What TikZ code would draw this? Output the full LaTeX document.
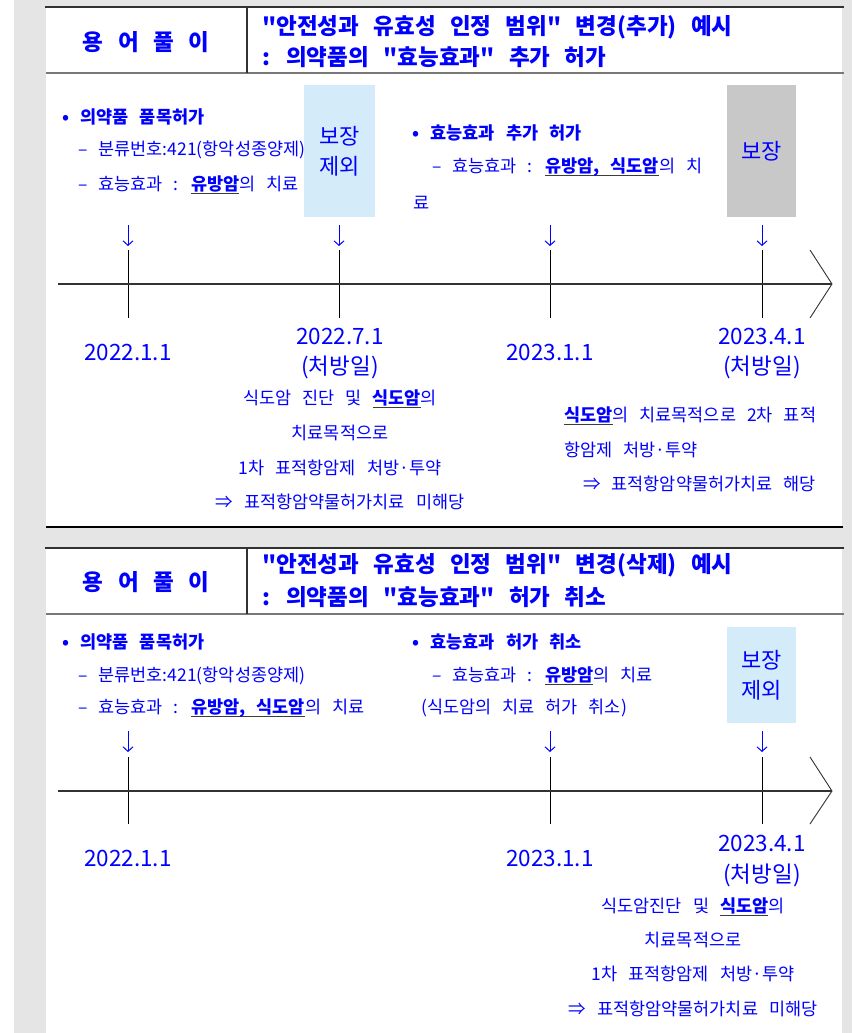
\documentclass[tikz,border=0pt]{standalone}
\usepackage{fontspec}
\newfontfamily\krf{Noto Sans CJK KR}[WordSpace=2.8]
\usetikzlibrary{arrows.meta}
\definecolor{txtblue}{RGB}{0,0,255}
\definecolor{bggray}{RGB}{229,229,229}
\definecolor{boxblue}{RGB}{212,235,249}
\definecolor{boxgray}{RGB}{200,200,200}
\definecolor{ulgray}{RGB}{60,60,60}
\definecolor{hdtop}{RGB}{50,50,50}
\definecolor{hdbot}{RGB}{120,120,120}
\newsavebox\ulbx
\newcommand\ulw[1]{\sbox\ulbx{\bfseries #1}\rlap{\color{ulgray}\rule[-3.5pt]{\wd\ulbx}{1.3pt}}\usebox\ulbx}
\tikzset{
  body/.style={text=txtblue, font=\krf\fontsize{17.5}{20}\selectfont, inner sep=0pt, anchor=west},
  bodyc/.style={body, anchor=center},
  bhead/.style={body, font=\krf\fontsize{17.5}{20}\selectfont\bfseries},
  hdl/.style={text=txtblue, font=\krf\fontsize{22.5}{26}\selectfont\bfseries, inner sep=0pt},
  hdt/.style={hdl, anchor=west},
  datef/.style={text=txtblue, font=\krf\fontsize{22.5}{26}\selectfont, inner sep=0pt},
  boxlbl/.style={text=txtblue, font=\krf\fontsize{22}{30}\selectfont, inner sep=0pt, align=center, minimum width=70pt},
  darr/.style={draw=txtblue, line width=1pt, -{Straight Barb[length=4.5pt,width=10pt]}},
  axisl/.style={draw=hdtop, line width=1.8pt},
  tickl/.style={draw=black, line width=0.8pt},
  chev/.style={draw=hdtop, line width=0.9pt},
}
\begin{document}
\begin{tikzpicture}[x=1pt,y=-1pt]
\useasboundingbox (0,0) rectangle (852,1033);
\fill[white] (0,0) rectangle (852,1033);
\fill[bggray] (14,0) rectangle (852,1033);
\fill[white] (46,7) rectangle (842,527);
\fill[white] (46,548) rectangle (842,1033);

% ---------- Panel 1 header ----------
\draw[line width=2pt, draw=hdtop] (45,7.5) -- (844,7.5);
\draw[line width=2pt, draw=hdbot] (46,73) -- (844,73);
\draw[line width=1.2pt, draw=hdtop] (247,7.5) -- (247,73);
\node[hdl] (h1l) at (146,42) {용 어 풀 이};
\node[hdt] (h1t1) at (262,27) {"안전성과 유효성 인정 범위" 변경(추가) 예시};
\node[hdt] (h1t2) at (262,57) {: 의약품의 "효능효과" 추가 허가};
\draw[line width=2pt, draw=black] (46,527) -- (843,527);

% ---------- Panel 1 body ----------
\node[bhead] (p1b1) at (62,117) {• 의약품 품목허가};
\node[body] (p1l1) at (78,150) {– 분류번호:421(항악성종양제)};
\node[body] (p1l2) at (78,185) {– 효능효과 : \ulw{유방암}의 치료};
\node[boxlbl, fill=boxblue, minimum width=71pt, minimum height=132pt] (p1bx1) at (339.5,151) {보장\\제외};
\node[bhead] (p1b2) at (412,133) {• 효능효과 추가 허가};
\node[body] (p1l3) at (432,167) {– 효능효과 : \ulw{유방암, 식도암}의 치};
\node[body] (p1l4) at (413,203) {료};
\node[boxlbl, fill=boxgray, minimum width=69pt, minimum height=132pt] (p1bx2) at (761.5,151) {보장};

\foreach \n/\x in {1/128,2/339,3/550,4/762}{
  \coordinate (p1a\n s) at (\x,225);
  \coordinate (p1a\n e) at (\x,246);
  \draw[darr] (p1a\n s) -- (p1a\n e);
  \coordinate (p1t\n s) at (\x,250);
  \coordinate (p1t\n e) at (\x,318);
  \draw[tickl] (p1t\n s) -- (p1t\n e);
}
\coordinate (p1ax) at (58,284);
\coordinate (p1tip) at (832,284);
\coordinate (p1c1) at (810,250);
\coordinate (p1c2) at (810,318);
\draw[axisl] (p1ax) -- (p1tip);
\draw[chev] (p1c1) -- (p1tip) -- (p1c2);

\node[datef] (p1d1) at (128,352) {2022.1.1};
\node[datef] (p1d2) at (340,336) {2022.7.1};
\node[datef] (p1d2b) at (340,367) {(처방일)};
\node[datef] (p1d3) at (550,352) {2023.1.1};
\node[datef] (p1d4) at (762,336) {2023.4.1};
\node[datef] (p1d4b) at (762,367) {(처방일)};

\node[bodyc] (p1e1) at (340,399) {식도암 진단 및 \ulw{식도암}의};
\node[bodyc] (p1e2) at (340,433) {치료목적으로};
\node[bodyc] (p1e3) at (340,468) {1차 표적항암제 처방·투약};
\node[bodyc] (p1e4) at (340,502) {⇒ 표적항암약물허가치료 미해당};

\node[body] (p1f1) at (564,416) {\ulw{식도암}의 치료목적으로 2차 표적};
\node[body] (p1f2) at (564,450) {항암제 처방·투약};
\node[body] (p1f3) at (583,484) {⇒ 표적항암약물허가치료 해당};

% ---------- Panel 2 header ----------
\draw[line width=2pt, draw=hdtop] (45,548) -- (844,548);
\draw[line width=2pt, draw=hdbot] (46,614) -- (844,614);
\draw[line width=1.2pt, draw=hdtop] (247,548) -- (247,614);
\node[hdl] (h2l) at (146,582) {용 어 풀 이};
\node[hdt] (h2t1) at (262,565) {"안전성과 유효성 인정 범위" 변경(삭제) 예시};
\node[hdt] (h2t2) at (262,597) {: 의약품의 "효능효과" 허가 취소};

% ---------- Panel 2 body ----------
\node[bhead] (p2b1) at (62,642) {• 의약품 품목허가};
\node[body] (p2l1) at (78,676) {– 분류번호:421(항악성종양제)};
\node[body] (p2l2) at (78,708) {– 효능효과 : \ulw{유방암, 식도암}의 치료};
\node[bhead] (p2b2) at (412,642) {• 효능효과 허가 취소};
\node[body] (p2l3) at (432,676) {– 효능효과 : \ulw{유방암}의 치료};
\node[body] (p2l4) at (421,708) {(식도암의 치료 허가 취소)};
\node[boxlbl, fill=boxblue, minimum width=69pt, minimum height=96pt] (p2bx1) at (761.5,675) {보장\\제외};

\foreach \n/\x in {1/128,3/550,4/762}{
  \coordinate (p2a\n s) at (\x,731);
  \coordinate (p2a\n e) at (\x,752);
  \draw[darr] (p2a\n s) -- (p2a\n e);
  \coordinate (p2t\n s) at (\x,757);
  \coordinate (p2t\n e) at (\x,824);
  \draw[tickl] (p2t\n s) -- (p2t\n e);
}
\coordinate (p2ax) at (58,791);
\coordinate (p2tip) at (832,791);
\coordinate (p2c1) at (810,757);
\coordinate (p2c2) at (810,824);
\draw[axisl] (p2ax) -- (p2tip);
\draw[chev] (p2c1) -- (p2tip) -- (p2c2);

\node[datef] (p2d1) at (128,858) {2022.1.1};
\node[datef] (p2d3) at (550,858) {2023.1.1};
\node[datef] (p2d4) at (762,843) {2023.4.1};
\node[datef] (p2d4b) at (762,875) {(처방일)};

\node[bodyc] (p2e1) at (693,907) {식도암진단 및 \ulw{식도암}의};
\node[bodyc] (p2e2) at (693,940) {치료목적으로};
\node[bodyc] (p2e3) at (693,974) {1차 표적항암제 처방·투약};
\node[bodyc] (p2e4) at (693,1009) {⇒ 표적항암약물허가치료 미해당};
\end{tikzpicture}
\end{document}
